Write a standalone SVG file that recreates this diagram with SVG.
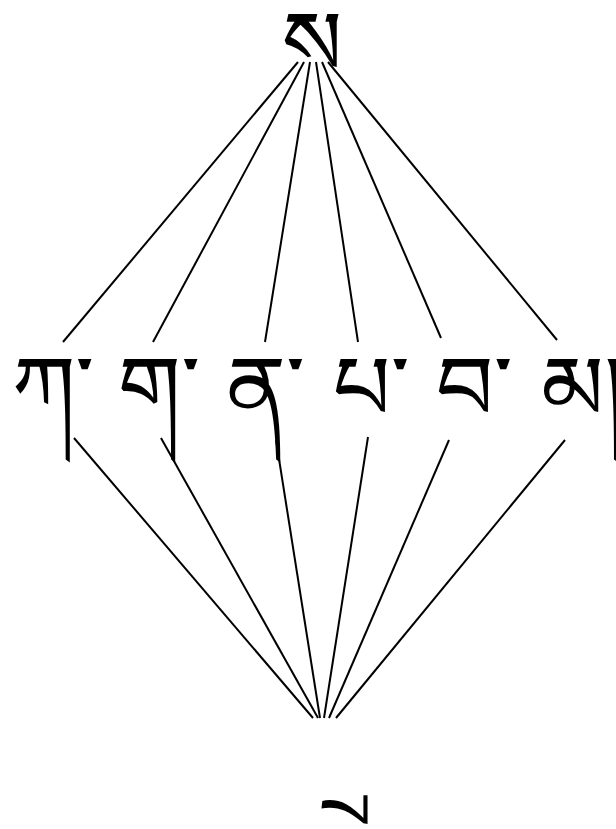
<svg xmlns="http://www.w3.org/2000/svg" width="616" height="829" viewBox="0 0 616 829">
<style>
.t{font-family:"Noto Serif Tibetan","Noto Sans Tibetan","Jomolhari","Tibetan Machine Uni","DejaVu Sans",serif;font-size:90px;fill:#000}
.e{stroke:#000;stroke-width:2;fill:none}
</style>
<rect width="616" height="829" fill="#fff"/>
<g id="edges">
<line class="e" x1="298" y1="62" x2="63" y2="342"/>
<line class="e" x1="304" y1="62" x2="153" y2="342"/>
<line class="e" x1="310" y1="62" x2="265" y2="342"/>
<line class="e" x1="316" y1="62" x2="358" y2="342"/>
<line class="e" x1="322" y1="62" x2="441" y2="338"/>
<line class="e" x1="328" y1="62" x2="557" y2="340"/>
<line class="e" x1="74" y1="438" x2="313" y2="718"/>
<line class="e" x1="161" y1="438" x2="318" y2="718"/>
<line class="e" x1="276" y1="440" x2="320" y2="718"/>
<line class="e" x1="368" y1="437" x2="324" y2="718"/>
<line class="e" x1="449" y1="440" x2="329" y2="718"/>
<line class="e" x1="565" y1="440" x2="336" y2="718"/>
</g>
<g id="top"><text class="t" x="312" y="75" text-anchor="middle">ས</text></g>
<g id="n1"><text class="t" x="12" y="420">ཀ་</text></g>
<g id="n2"><text class="t" x="118" y="420">ག་</text></g>
<g id="n3"><text class="t" x="226" y="420">ན་</text></g>
<g id="n4"><text class="t" x="333" y="420">པ་</text></g>
<g id="n5"><text class="t" x="436" y="420">བ་</text></g>
<g id="n6"><text class="t" x="541" y="420">མ།</text></g>
<g id="bottom"><text class="t" x="307" y="808" text-anchor="middle">&#160;ྲ</text></g>
</svg>
